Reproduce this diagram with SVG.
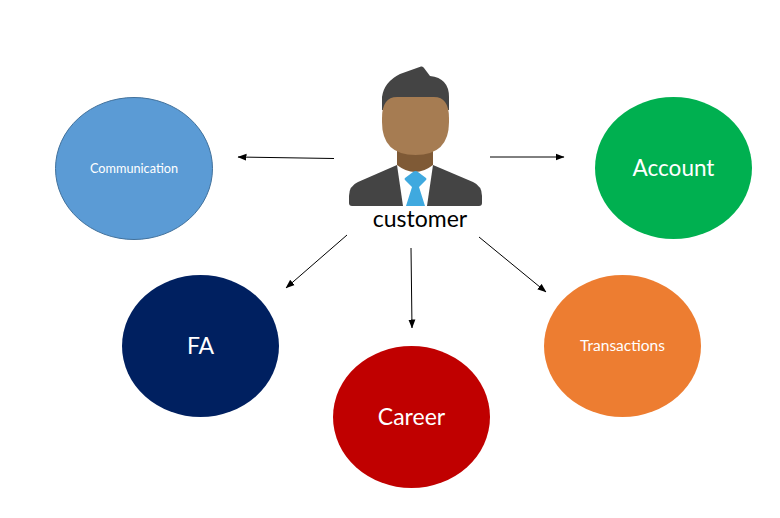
<svg xmlns="http://www.w3.org/2000/svg" width="780" height="518" viewBox="0 0 780 518">
<style>
text{font-family:"Lato","Open Sans","Liberation Sans",sans-serif;text-anchor:middle}
.w{fill:#fff}.s{font-size:12.700px}.t{font-size:15.500px}.b{font-size:23px}
.c{stroke:#000;stroke-width:1;fill:none;marker-end:url(#a)}
</style>
<defs><marker id="a" markerUnits="userSpaceOnUse" markerWidth="9" markerHeight="8" refX="8.500" refY="4" orient="auto"><path d="M0 .5L9 4L0 7.500z" fill="#000"/></marker></defs>
<rect width="780" height="518" fill="#fff"/>
<g id="connectors">
<path class="c" d="M334 158.500L238 157"/>
<path class="c" d="M490 157H564"/>
<path class="c" d="M347 235L286 288"/>
<path class="c" d="M411 248L412 328"/>
<path class="c" d="M479 237L546 292"/>
</g>
<g id="customer">
<path d="M397 165L358 182Q349 186 349 196V203Q349 206 352 206H479Q482 206 482 203V196Q482 186 473 182L433 165Z" fill="#444"/>
<path d="M397 165H433L427 206H403Z" fill="#fff"/>
<path d="M397 148H433V165Q415 179 397 165Z" fill="#7f5a36"/>
<path d="M413 172Q415.500 170 418 172L426 178Q427 179 426 180L419 187L425 206H406L412 187L405 180Q404 179 405 178Z" fill="#3fa9df"/>
<path d="M382 110V97Q384 82 400 74L421 66.500Q423 66 424 68L430 76Q449 78 449 97V110Z" fill="#444"/>
<path d="M382 118Q382 97 397 97H434Q449 97 449 118V122Q449 155 415.500 155Q382 155 382 122Z" fill="#a67c52"/>
<text x="420" y="227" font-size="23">customer</text>
</g>
<g id="communication"><ellipse cx="134" cy="168.500" rx="78.500" ry="71" fill="#5b9bd5" stroke="#41719c"/><text class="w s" x="134" y="173">Communication</text></g>
<g id="account"><ellipse cx="673.500" cy="168" rx="78.500" ry="71" fill="#00b050"/><text class="w" font-size="22.500" x="673.500" y="176">Account</text></g>
<g id="fa"><ellipse cx="200.500" cy="346" rx="78.500" ry="71" fill="#002060"/><text class="w b" x="200.500" y="354">FA</text></g>
<g id="career"><ellipse cx="411.500" cy="417" rx="78.500" ry="71" fill="#c00000"/><text class="w b" x="411.500" y="425">Career</text></g>
<g id="transactions"><ellipse cx="622.500" cy="346" rx="78.500" ry="71" fill="#ed7d31"/><text class="w t" x="622.500" y="351">Transactions</text></g>
</svg>
